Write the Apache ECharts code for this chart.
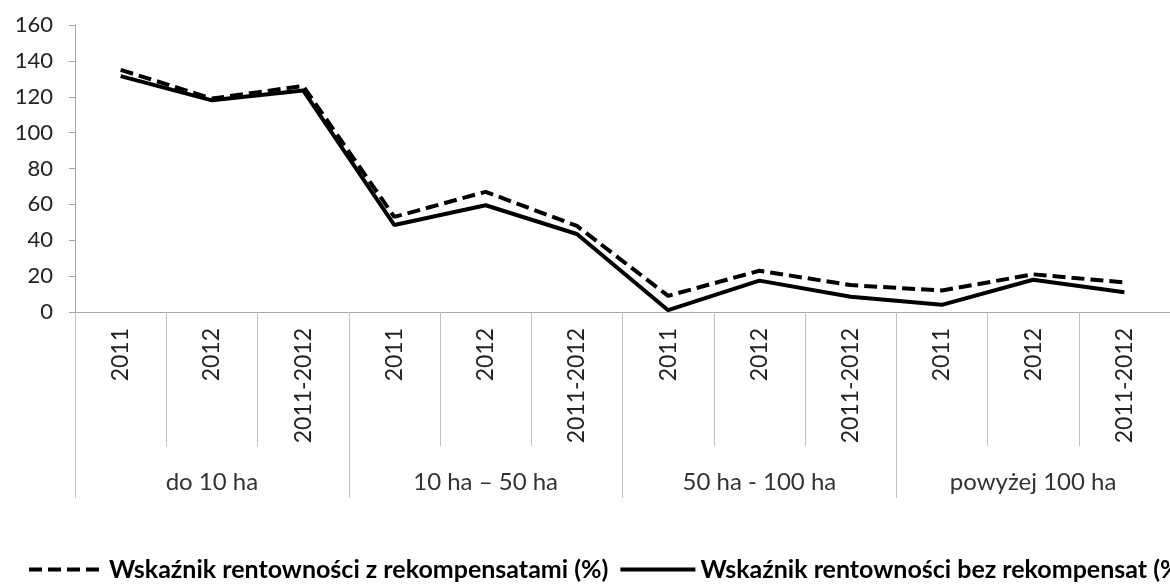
<!DOCTYPE html>
<html>
<head>
<meta charset="utf-8">
<script src="https://cdn.jsdelivr.net/npm/echarts@6/dist/echarts.min.js"></script>
<style>
  html, body { margin: 0; padding: 0; background: #fff; }
  #chart { width: 1170px; height: 588px; }
</style>
</head>
<body>
<div id="chart"></div>
<script>
var myChart = echarts.init(document.getElementById('chart'));

var years = ['2011', '2012', '2011-2012', '2011', '2012', '2011-2012',
    '2011', '2012', '2011-2012', '2011', '2012', '2011-2012'];
var groups = ['do 10 ha', '10 ha – 50 ha', '50 ha - 100 ha', 'powyżej 100 ha'];

var seriesNames = ['Wskaźnik rentowności z rekompensatami (%)', 'Wskaźnik rentowności bez rekompensat (%)'];
var zRekomp = [135, 119, 126, 53, 67, 48, 9, 23, 15, 12, 21, 16.5];
var bezRekomp = [131.5, 118, 123.5, 48.5, 59.5, 43.5, 1, 17.5, 8.5, 4, 18, 11];

var fontName = 'Lato';
var gray = '#a6a6a6';

option = {
    backgroundColor: '#fff',
    animation: false,
    textStyle: { fontFamily: fontName },
    grid: {
        left: 75,
        right: -2,
        top: 25,
        bottom: 276
    },
    legend: {
        left: 22,
        top: 552,
        width: 2000,
        itemWidth: 75,
        itemHeight: 14,
        itemGap: 10,
        itemStyle: { color: 'transparent', borderWidth: 0 },
        lineStyle: { width: 4 },
        textStyle: {
            fontFamily: fontName,
            fontWeight: 'bold',
            fontSize: 25,
            color: '#000'
        },
        data: seriesNames
    },
    xAxis: [
        {
            type: 'category',
            data: years,
            position: 'bottom',
            axisLine: { lineStyle: { color: gray, width: 1 } },
            axisTick: { show: true, interval: 0, length: 134, lineStyle: { color: '#bfbfbf' } },
            axisLabel: {
                interval: 0,
                rotate: 90,
                margin: 16,
                fontSize: 23,
                color: '#222'
            }
        },
        {
            type: 'category',
            data: groups,
            position: 'bottom',
            axisLine: { show: false },
            axisTick: { show: true, interval: 0, length: 186, lineStyle: { color: '#bfbfbf' } },
            axisLabel: {
                interval: 0,
                margin: 158,
                fontSize: 24,
                color: '#333'
            }
        }
    ],
    yAxis: {
        type: 'value',
        min: 0,
        max: 160,
        interval: 20,
        axisLine: { show: true, lineStyle: { color: gray } },
        axisTick: { show: true, length: 6, lineStyle: { color: gray } },
        splitLine: { show: false },
        axisLabel: {
            margin: 22,
            fontSize: 22,
            color: '#222'
        }
    },
    series: [
        {
            name: seriesNames[0],
            type: 'line',
            data: zRekomp,
            symbol: 'none',
            lineStyle: { color: '#000', width: 4, type: [13, 6] },
            itemStyle: { color: '#000' }
        },
        {
            name: seriesNames[1],
            type: 'line',
            data: bezRekomp,
            symbol: 'none',
            lineStyle: { color: '#000', width: 4, type: 'solid' },
            itemStyle: { color: '#000' }
        }
    ]
};
myChart.setOption(option);
</script>
</body>
</html>
